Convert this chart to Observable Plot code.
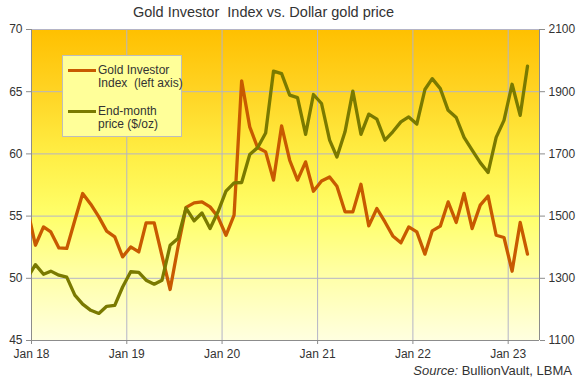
<!DOCTYPE html>
<html><head><meta charset="utf-8">
<script src="https://cdn.jsdelivr.net/npm/d3@7"></script>
<script src="https://cdn.jsdelivr.net/npm/@observablehq/plot@0.6"></script>
<style>
body{margin:0;background:#fff;font-family:"Liberation Sans",Arial,sans-serif;color:#333;}
#wrap{position:relative;width:578px;height:381px;overflow:hidden;}
#title{height:22px;line-height:25px;font-size:14.5px;white-space:pre;padding-left:133px;color:#333;}
#chart{height:339px;}
#source{height:20px;line-height:20px;font-size:13px;text-align:right;padding-right:6px;color:#333;}
#legend{position:absolute;left:62px;top:55px;width:120px;height:82px;background:#FFFF99;border:1px solid #BDBDBD;box-sizing:border-box;font-size:12px;color:#333;}
#legend .sw{position:absolute;left:5px;width:28px;height:3px;}
#legend .tx{position:absolute;left:35px;line-height:13px;white-space:pre;}
</style></head><body>
<div id="wrap">
  <div id="title">Gold Investor  Index vs. Dollar gold price</div>
  <div id="chart"></div>
  <div id="source"><i>Source:</i> BullionVault, LBMA</div>
  <div id="legend">
    <div class="sw" style="top:12.5px;background:#C85A00"></div>
    <div class="tx" style="top:7.5px">Gold Investor</div>
    <div class="tx" style="top:20.5px">Index  (left axis)</div>
    <div class="sw" style="top:54px;background:#7A7A00"></div>
    <div class="tx" style="top:49px">End-month</div>
    <div class="tx" style="top:62px">price ($/oz)</div>
  </div>
</div>
<script>
// Months (end-month observations), Dec 2017 .. Mar 2023
const months = [
 "2017-12",
 "2018-01","2018-02","2018-03","2018-04","2018-05","2018-06","2018-07","2018-08","2018-09","2018-10","2018-11","2018-12",
 "2019-01","2019-02","2019-03","2019-04","2019-05","2019-06","2019-07","2019-08","2019-09","2019-10","2019-11","2019-12",
 "2020-01","2020-02","2020-03","2020-04","2020-05","2020-06","2020-07","2020-08","2020-09","2020-10","2020-11","2020-12",
 "2021-01","2021-02","2021-03","2021-04","2021-05","2021-06","2021-07","2021-08","2021-09","2021-10","2021-11","2021-12",
 "2022-01","2022-02","2022-03","2022-04","2022-05","2022-06","2022-07","2022-08","2022-09","2022-10","2022-11","2022-12",
 "2023-01","2023-02","2023-03"
];
// Gold Investor Index (left axis)
const gii = [
 55.6,
 52.66,54.13,53.73,52.44,52.40,54.67,56.82,55.96,54.94,53.79,53.33,51.72,
 52.52,52.12,54.45,54.45,51.8,49.1,52.5,55.7,56.06,56.14,55.74,54.94,
 53.46,55.07,65.87,62.17,60.51,60.16,57.89,62.25,59.49,57.89,59.36,57.0,
 57.83,58.15,57.4,55.34,55.34,57.56,54.21,55.61,54.53,53.41,52.85,54.13,
 53.73,51.94,53.81,54.19,56.14,54.49,56.82,54.0,55.88,56.62,53.46,53.28,
 50.57,54.49,51.94
];
// End-month gold price, $/oz (right axis)
const gold = [
 1300,
 1344,1313,1323,1310,1304,1246,1217,1197,1187,1210,1213,1272,
 1321,1319,1294,1281,1294,1406,1428,1526,1485,1510,1460,1513,
 1580,1607,1608,1698,1720,1767,1966,1958,1889,1881,1763,1891,
 1862,1744,1690,1771,1902,1763,1828,1812,1744,1771,1803,1819,
 1796,1907,1942,1910,1840,1817,1753,1712,1672,1640,1753,1808,
 1924,1824,1982
];
const leftTicks = [45,50,55,60,65,70];
const rightTicks = [1100,1300,1500,1700,1900,2100];
const yearTicks = ["2018-01-01","2019-01-01","2020-01-01","2021-01-01","2022-01-01","2023-01-01"];
const xDomain = ["2018-01-01","2023-05-01"];

const parseDay = s => new Date(s + "T00:00:00Z");
const data = months.map((m, i) => ({date: parseDay(m + "-16"), gii: gii[i], gold: gold[i]}));
const janDates = yearTicks.map(parseDay);

// map right-axis dollars onto left-axis scale
const r0 = rightTicks[0], r1 = rightTicks[rightTicks.length-1];
const l0 = leftTicks[0], l1 = leftTicks[leftTicks.length-1];
const toLeft = v => l0 + (v - r0) * (l1 - l0) / (r1 - r0);
const toRight = v => String(Math.round(r0 + (v - l0) * (r1 - r0) / (l1 - l0)));

const gridC = "#B4B4C6", axisC = "#8C8C8C", textC = "#333";

const chart = Plot.plot({
  width: 578, height: 339,
  marginLeft: 31, marginRight: 39, marginTop: 7, marginBottom: 21,
  style: {fontFamily: "'Liberation Sans', Arial, sans-serif", fontSize: "12px", background: "transparent"},
  x: {type: "utc", domain: xDomain.map(parseDay)},
  y: {domain: [l0, l1]},
  marks: [
    Plot.frame({fill: "url(#bggrad)", stroke: "none"}),
    Plot.ruleY(leftTicks.slice(1), {stroke: gridC, strokeWidth: 1}),
    Plot.ruleX(janDates.slice(1), {stroke: gridC, strokeWidth: 1}),
    Plot.ruleX([parseDay(xDomain[0]), parseDay(xDomain[1])], {stroke: axisC, strokeWidth: 1}),
    Plot.ruleY([l0], {stroke: axisC, strokeWidth: 1}),
    Plot.axisY({anchor: "left", ticks: leftTicks, tickSize: 5, tickPadding: 4, label: null, stroke: axisC, fill: textC, fontSize: 12}),
    Plot.axisY({anchor: "right", ticks: leftTicks, tickFormat: toRight, tickSize: 5, tickPadding: 4, label: null, stroke: axisC, fill: textC, fontSize: 12}),
    Plot.axisX({ticks: janDates, tickFormat: d => "Jan " + String(d.getUTCFullYear()).slice(2), tickSize: 4, tickPadding: 5, label: null, stroke: axisC, fill: textC, fontSize: 12}),
    Plot.line(data, {x: "date", y: "gii", stroke: "#C85A00", strokeWidth: 3.3, clip: true}),
    Plot.line(data, {x: "date", y: d => toLeft(d.gold), stroke: "#7A7A00", strokeWidth: 3.3, clip: true})
  ]
});

const stops = [[0,"#FFC000"],[0.2,"#FFD424"],[0.4,"#FFEE44"],[0.6,"#FFFF6A"],[0.8,"#FFFFAA"],[1,"#FFFFE0"]];
const defs = d3.select(chart).insert("defs", ":first-child");
const lg = defs.append("linearGradient").attr("id", "bggrad").attr("x1", 0).attr("y1", 0).attr("x2", 0).attr("y2", 1);
stops.forEach(([o, c]) => lg.append("stop").attr("offset", o).attr("stop-color", c));

document.getElementById("chart").appendChild(chart);
</script>
</body></html>
